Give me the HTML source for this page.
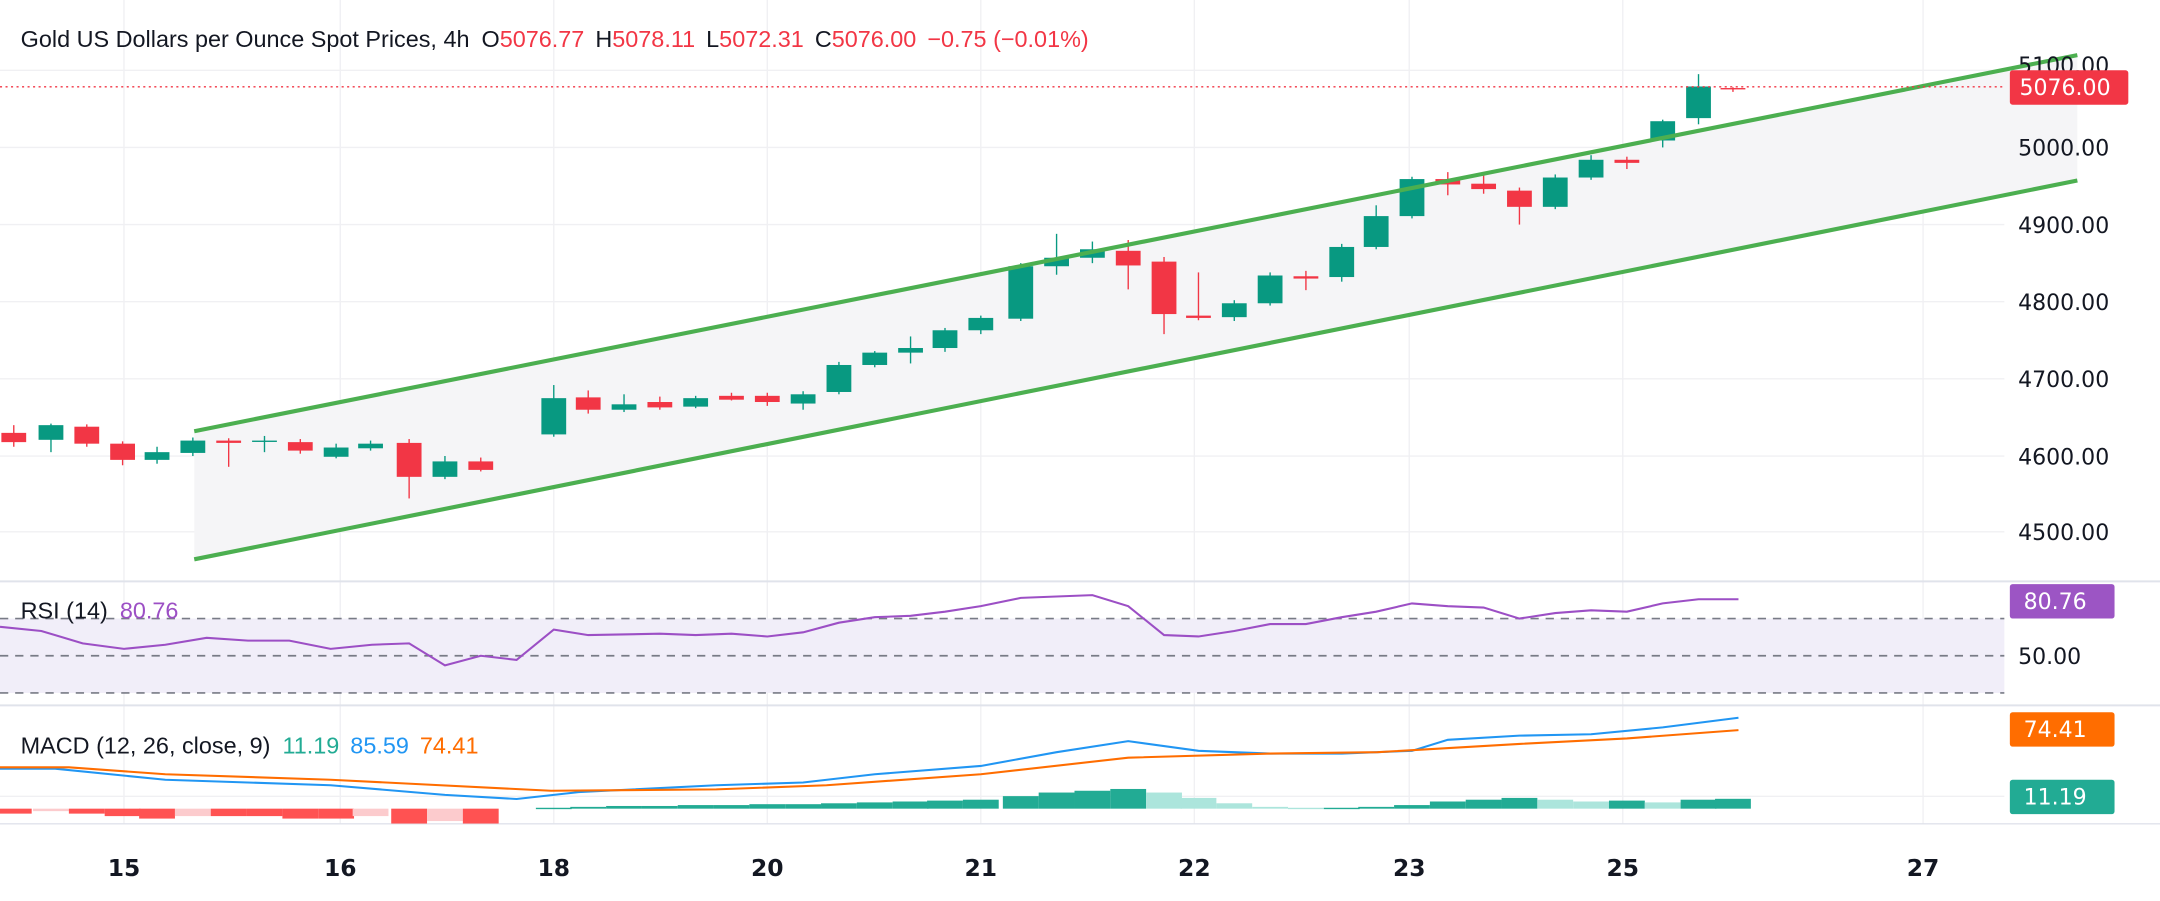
<!DOCTYPE html>
<html><head><meta charset="utf-8"><style>
html,body{margin:0;padding:0;background:#fff;}
svg{display:block;font-family:"Liberation Sans","DejaVu Sans",sans-serif;}
.ax{font-family:"DejaVu Sans","Liberation Sans",sans-serif;font-size:16px;fill:#131722;}
</style></head><body>
<svg id="s" width="2160" height="901" viewBox="0 0 1568 654" xmlns="http://www.w3.org/2000/svg">
<rect width="1568" height="654" fill="#fff"/>
<g id="grid" stroke="#f0f0f3" stroke-width="1"></g>
<polygon points="141,313 1508,40 1508,131 141,406" fill="#f5f5f7"/>
<rect x="0" y="449" width="1455" height="54" fill="#f1eef9"/>
<g stroke="#787b86" stroke-width="1.2" stroke-dasharray="6,5">
<line x1="0" y1="449" x2="1455" y2="449"/><line x1="0" y1="476" x2="1455" y2="476"/><line x1="0" y1="503" x2="1455" y2="503"/>
</g>
<line x1="0" y1="422" x2="1568" y2="422" stroke="#e0e3eb" stroke-width="1.5"/>
<line x1="0" y1="512" x2="1568" y2="512" stroke="#e0e3eb" stroke-width="1.5"/>
<line x1="0" y1="598" x2="1568" y2="598" stroke="#e0e3eb" stroke-width="1"/>
<g id="hist"></g>
<g id="cand"></g>
<line x1="141" y1="313" x2="1508" y2="40" stroke="#4caf50" stroke-width="3"/>
<line x1="141" y1="406" x2="1508" y2="131" stroke="#4caf50" stroke-width="3"/>
<line x1="0" y1="63" x2="1455" y2="63" stroke="#f23645" stroke-width="1" stroke-dasharray="1.5,2.5"/>
<polyline id="rsi" fill="none" stroke="#9c4fc5" stroke-width="1.5"/>
<polyline id="macd" fill="none" stroke="#2196f3" stroke-width="1.5"/>
<polyline id="sig" fill="none" stroke="#ff6d00" stroke-width="1.5"/>
<text x="15" y="34" font-size="17" fill="#131722">Gold US Dollars per Ounce Spot Prices, 4h <tspan dx="4">O</tspan><tspan fill="#f23645">5076.77</tspan><tspan dx="8">H</tspan><tspan fill="#f23645">5078.11</tspan><tspan dx="8">L</tspan><tspan fill="#f23645">5072.31</tspan><tspan dx="8">C</tspan><tspan fill="#f23645">5076.00</tspan><tspan dx="8" fill="#f23645">−0.75 (−0.01%)</tspan></text>
<text x="15" y="449" font-size="17" fill="#131722">RSI (14) <tspan dx="4" fill="#9c4fc5">80.76</tspan></text>
<text x="15" y="547" font-size="17" fill="#131722">MACD (12, 26, close, 9) <tspan dx="4" fill="#22ab94">11.19</tspan><tspan dx="8" fill="#2196f3">85.59</tspan><tspan dx="8" fill="#ff6d00">74.41</tspan></text>
<g class="ax">
<text x="1465" y="53">5100.00</text>
<text x="1465" y="113">5000.00</text>
<text x="1465" y="169">4900.00</text>
<text x="1465" y="225">4800.00</text>
<text x="1465" y="281">4700.00</text>
<text x="1465" y="337">4600.00</text>
<text x="1465" y="392">4500.00</text>
<text x="1465" y="482">50.00</text>
</g>
<rect x="1459" y="51" width="86" height="25" rx="2" fill="#f23645"/>
<text x="1466" y="69" class="ax" style="fill:#fff">5076.00</text>
<rect x="1459" y="424" width="76" height="25" rx="2" fill="#9c55c4"/>
<text x="1469" y="442" class="ax" style="fill:#fff">80.76</text>
<rect x="1459" y="517" width="76" height="25" rx="2" fill="#ff6d00"/>
<text x="1469" y="535" class="ax" style="fill:#fff">74.41</text>
<rect x="1459" y="566" width="76" height="25" rx="2" fill="#22ab94"/>
<text x="1469" y="584" class="ax" style="fill:#fff">11.19</text>
<g font-size="17" font-weight="bold" fill="#131722" text-anchor="middle" font-family="DejaVu Sans, sans-serif">
<text x="90" y="636">15</text><text x="247" y="636">16</text><text x="402" y="636">18</text><text x="557" y="636">20</text><text x="712" y="636">21</text><text x="867" y="636">22</text><text x="1023" y="636">23</text><text x="1178" y="636">25</text><text x="1396" y="636">27</text>
</g>
</svg>
<script>
var NS="http://www.w3.org/2000/svg";
function el(p,t,a){var e=document.createElementNS(NS,t);for(var k in a)e.setAttribute(k,a[k]);p.appendChild(e);return e;}
var grid=document.getElementById('grid');
[90,247,402,557,712,867,1023,1178,1396].forEach(function(x){el(grid,'line',{x1:x,y1:0,x2:x,y2:598});});
[51,107,163,219,275,331,386].forEach(function(y){el(grid,'line',{x1:0,y1:y,x2:1455,y2:y});});
el(grid,'line',{x1:0,y1:578,x2:1455,y2:578});
function Y(p){return 107+(5000-p)*0.56;}
var C=[[10,4630,4640,4612,4618],[37,4621,4642,4605,4640],[63,4638,4641,4612,4616],[89,4616,4619,4588,4595],[114,4595,4612,4590,4605],
[140,4604,4624,4600,4620],[166,4620,4623,4586,4617],[192,4619,4626,4605,4620],[218,4618,4622,4603,4607],[244,4599,4616,4597,4611],
[269,4610,4620,4607,4616],[297,4617,4622,4545,4573],[323,4573,4600,4570,4593],[349,4593,4598,4580,4582],
[402,4628,4692,4625,4675],[427,4676,4685,4655,4660],[453,4660,4680,4657,4667],[479,4670,4677,4660,4663],[505,4664,4678,4662,4675],
[531,4678,4682,4672,4673],[557,4678,4682,4665,4670],[583,4668,4684,4660,4680],[609,4683,4722,4680,4718],[635,4718,4736,4715,4734],
[661,4734,4755,4720,4740],[686,4740,4766,4735,4763],[712,4763,4782,4758,4779],[741,4778,4850,4775,4846],[767,4846,4888,4835,4857],
[793,4857,4878,4850,4868],[819,4866,4880,4816,4847],[845,4852,4858,4758,4784],[870,4782,4838,4776,4779],[896,4780,4802,4775,4798],
[922,4798,4838,4795,4834],[948,4833,4840,4815,4830],[974,4832,4875,4826,4871],[999,4871,4925,4868,4911],[1025,4911,4962,4908,4959],
[1051,4959,4968,4938,4952],[1077,4953,4968,4940,4946],[1103,4944,4948,4900,4923],[1129,4923,4965,4920,4961],[1155,4961,4990,4958,4984],
[1181,4984,4988,4972,4980],[1207,5009,5036,5000,5034],[1233,5038,5095,5030,5079],[1258,5077,5078,5072,5076]];
var g=document.getElementById('cand');
C.forEach(function(c){var up=c[4]>=c[1];var col=up?'#089981':'#f23645';
el(g,'line',{x1:c[0],x2:c[0],y1:Y(c[2]),y2:Y(c[3]),stroke:col,'stroke-width':1});
var t=Y(Math.max(c[1],c[4])),b=Y(Math.min(c[1],c[4]));
el(g,'rect',{x:c[0]-9,y:t,width:18,height:Math.max(1,b-t),fill:col});});
var H=[-2,-1,-2,-3,-4,-3,-3,-3,-4,-4,-3,-6,-5,-6,0.5,1,1.5,1.5,2,2,2.5,2.5,3,3.5,4,4.5,5,7,9,10,11,9,6,3,1,0.5,0.5,1,2,4,5,6,5,4,4.5,3.5,5,5.5];
var hg=document.getElementById('hist'),z=587,prev=0;
C.forEach(function(c,i){var v=H[i];var col;
if(v>=0)col=(v>=prev)?'#22ab94':'#ace5dc';else col=(v<=prev)?'#ff5252':'#fccbcd';prev=v;
var h=v*(v>0?1.3:1.8);el(hg,'rect',{x:c[0]-13,y:h>0?z-h:z,width:26,height:Math.max(1,Math.abs(h)),fill:col});});
function pts(id,a){document.getElementById(id).setAttribute('points',a.map(function(p){return p.join(',')}).join(' '));}
pts('rsi',[[0,455],[30,458],[60,467],[90,471],[120,468],[150,463],[180,465],[210,465],[240,471],[270,468],[297,467],[323,483],[349,476],[375,479],[402,457],[427,461],[479,460],[505,461],[531,460],[557,462],[583,459],[609,452],[635,448],[661,447],[686,444],[712,440],[741,434],[767,433],[793,432],[819,440],[845,461],[870,462],[896,458],[922,453],[948,453],[974,448],[999,444],[1025,438],[1051,440],[1077,441],[1103,449],[1129,445],[1155,443],[1181,444],[1207,438],[1233,435],[1262,435]]);
pts('macd',[[0,558],[40,558],[120,566],[240,570],[323,577],[375,580],[420,575],[520,570],[583,568],[635,562],[712,556],[767,546],[819,538],[870,545],[922,547],[974,547],[1025,545],[1051,537],[1103,534],[1155,533],[1207,528],[1262,521]]);
pts('sig',[[0,557],[50,557],[120,562],[240,566],[300,569],[400,574],[520,573],[600,570],[712,562],[819,550],[922,547],[1000,546],[1103,540],[1181,536],[1262,530]]);
</script>
</body></html>
